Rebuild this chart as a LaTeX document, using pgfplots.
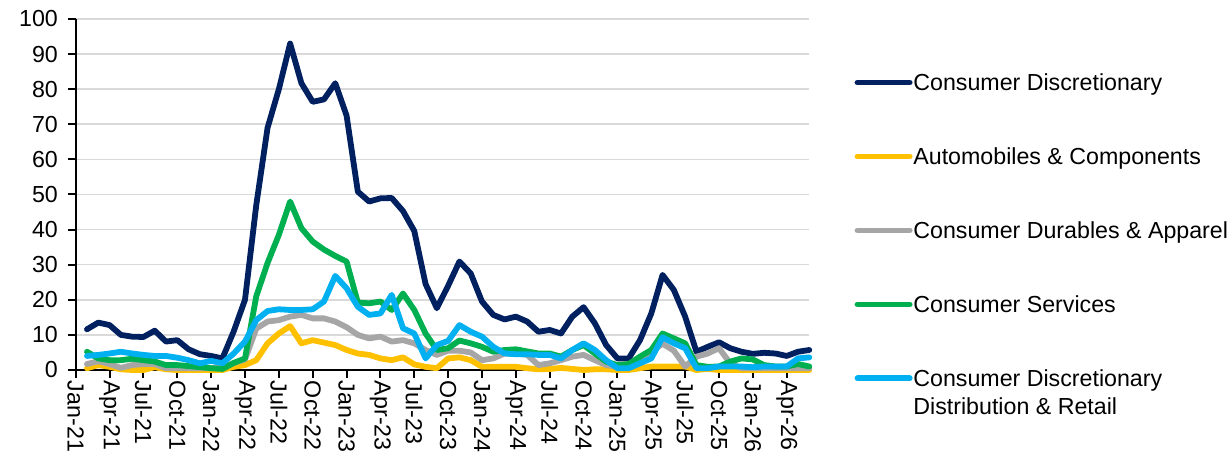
\documentclass[border=0pt]{standalone}
\usepackage{fontspec}
\setmainfont{Liberation Sans}
\usepackage{pgfplots}
\pgfplotsset{compat=1.18}
\usepackage{pgfplotstable}

\definecolor{cdnavy}{RGB}{0,32,96}
\definecolor{cdyellow}{RGB}{255,192,0}
\definecolor{cdgray}{RGB}{166,166,166}
\definecolor{cdgreen}{RGB}{0,176,80}
\definecolor{cdblue}{RGB}{0,176,240}
\definecolor{gridgray}{RGB}{217,217,217}

\pgfplotsset{
  layers/gridbehind/.define layer set={axis background,axis grid,main,axis ticks,axis lines,axis tick labels,axis descriptions,axis foreground}{},
}

% month index: 1 = Jan-21 (month-end) ... 65 = May-26
\pgfplotstableread{
k  disc  auto  dur   serv  retail
1  11.6  0.5   1.7   5.2   4.0
2  13.5  1.4   2.5   3.3   4.3
3  12.8  0.9   1.7   2.8   4.7
4  10.0  0.2   0.6   2.8   5.2
5  9.5   0.0   1.4   3.2   4.7
6  9.4   0.0   1.7   2.8   4.3
7  11.2  0.8   1.7   2.4   4.0
8  8.1   0.2   0.5   1.4   4.0
9  8.5   0.0   0.5   1.4   3.5
10 5.9   0.0   0.5   1.1   2.8
11 4.5   0.0   0.5   0.8   1.9
12 4.0   0.0   0.5   0.5   2.6
13 3.3   0.0   0.8   0.3   1.9
14 11.0  0.9   2.0   2.0   4.7
15 20.0  1.4   3.0   3.3   8.1
16 47.0  2.8   11.8  21.0  14.2
17 69.0  7.6   13.8  30.5  16.8
18 80.0  10.4  14.2  38.5  17.3
19 93.0  12.5  15.2  48.0  17.1
20 81.7  7.6   15.7  40.4  17.1
21 76.4  8.5   14.7  36.6  17.3
22 77.1  7.8   14.7  34.3  19.5
23 81.7  7.1   13.8  32.5  26.8
24 72.5  5.7   12.2  30.9  23.3
25 50.8  4.7   10.0  19.2  18.0
26 48.0  4.3   9.0   19.0  15.7
27 48.9  3.3   9.5   19.5  16.1
28 49.0  2.8   8.1   17.1  21.4
29 45.3  3.6   8.5   21.8  11.9
30 39.6  1.6   7.6   17.1  10.4
31 24.5  0.9   5.7   10.4  3.3
32 17.6  0.5   4.3   5.7   7.1
33 24.0  3.3   5.5   6.2   8.3
34 30.9  3.6   5.5   8.4   12.8
35 27.5  2.8   5.0   7.6   10.9
36 19.5  0.9   2.8   6.6   9.5
37 15.7  0.9   3.3   5.2   6.6
38 14.4  0.9   4.7   5.7   4.7
39 15.2  0.9   4.7   5.9   4.5
40 13.8  0.5   4.3   5.3   4.5
41 10.9  0.2   1.4   4.7   4.3
42 11.4  0.3   1.9   4.7   4.3
43 10.4  0.6   2.8   3.8   3.3
44 15.2  0.3   3.8   5.7   5.7
45 17.9  0.0   4.3   7.1   7.6
46 13.3  0.2   2.8   4.7   5.7
47 7.1   0.2   1.4   2.4   2.8
48 3.3   0.0   0.9   1.4   0.5
49 3.3   0.0   1.4   1.7   0.5
50 8.5   0.5   3.3   3.8   1.9
51 16.1  1.0   5.2   5.7   3.3
52 27.1  1.0   7.5   10.4  9.3
53 22.8  1.0   5.5   9.0   7.6
54 15.2  1.0   1.0   7.6   6.2
55 5.2   0.0   3.8   1.4   0.5
56 6.6   0.3   4.7   0.9   0.5
57 7.9   0.0   6.2   1.0   1.0
58 6.2   0.0   1.9   2.4   1.0
59 5.2   0.0   0.5   3.3   1.0
60 4.6   0.0   0.5   3.0   0.8
61 4.9   0.0   0.5   1.4   1.0
62 4.7   0.0   0.5   1.0   1.0
63 4.0   0.0   0.5   1.0   1.0
64 5.2   0.0   0.5   1.7   3.3
65 5.7   0.0   0.5   1.0   3.6
}\datatable

\begin{document}
\begin{tikzpicture}
\begin{axis}[
  set layers=gridbehind,
  at={(0,0)}, anchor=south west, scale only axis,
  width=366.8pt, height=175.5pt,
  xmin=0, xmax=65, ymin=0, ymax=100,
  xtick={0,3,...,63},
  xticklabels={Jan-21,Apr-21,Jul-21,Oct-21,Jan-22,Apr-22,Jul-22,Oct-22,Jan-23,Apr-23,Jul-23,Oct-23,Jan-24,Apr-24,Jul-24,Oct-24,Jan-25,Apr-25,Jul-25,Oct-25,Jan-26,Apr-26},
  ytick={0,10,...,100},
  axis x line*=bottom, axis y line*=left,
  axis line style={black, line width=1pt},
  tick align=outside, major tick length=3.8pt,
  tick style={black, line width=1pt},
  ymajorgrids, grid style={gridgray, line width=0.8pt},
  /pgf/number format/assume math mode=true,
  tick label style={font=\fontsize{11.6}{13.9}\selectfont},
  x tick label style={rotate=-90, anchor=west, inner sep=1.5pt},
  y tick label style={xshift=-1.6pt},
  clip=false,
  every axis plot/.append style={line width=2.9pt, line join=round, line cap=round},
  legend image code/.code={\draw[#1] (1.45pt,4.15pt) -- (27.55pt,4.15pt);},
  legend cell align=left,
  legend style={at={(axis description cs:0,0)}, anchor=north west,
    xshift=389.25pt, yshift=149.9pt,
    draw=none, fill=none, inner sep=0pt, row sep=24.95pt,
    font=\fontsize{11.6}{13.9}\selectfont,
    nodes={inner sep=0.4pt}, cells={anchor=base west}},
]
\addplot[cdnavy] table[x=k, y=disc] {\datatable};
\addlegendentry{\strut Consumer Discretionary}
\addplot[cdyellow] table[x=k, y=auto] {\datatable};
\addlegendentry{\strut Automobiles \& Components}
\addplot[cdgray] table[x=k, y=dur] {\datatable};
\addlegendentry{\strut Consumer Durables \& Apparel}
\addplot[cdgreen] table[x=k, y=serv] {\datatable};
\addlegendentry{\strut Consumer Services}
\addplot[cdblue] table[x=k, y=retail] {\datatable};
\addlegendentry{\vtop{\hbox{\strut Consumer Discretionary}\hbox{\strut Distribution \& Retail}}}
\end{axis}
\pgfresetboundingbox
\path[use as bounding box] (-37.85pt,-44.5pt) rectangle (578.15pt,185pt);
\end{tikzpicture}
\end{document}
